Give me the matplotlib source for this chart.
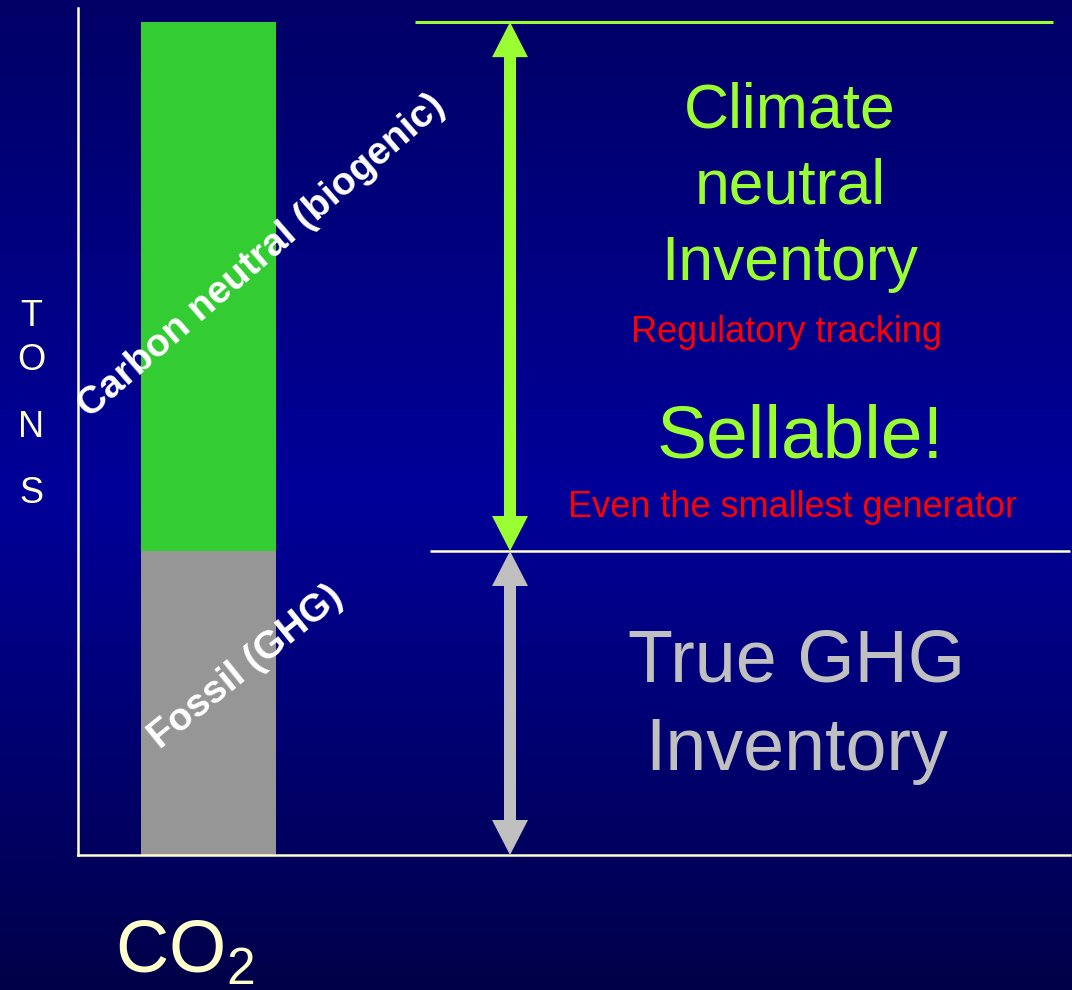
import matplotlib.pyplot as plt
import numpy as np
from matplotlib.colors import LinearSegmentedColormap
from matplotlib.patches import FancyArrowPatch, ArrowStyle

plt.rcParams['font.family'] = ['Liberation Sans', 'DejaVu Sans']
plt.rcParams['mathtext.fontset'] = 'custom'
plt.rcParams['mathtext.rm'] = 'Liberation Sans'

# stacked CO2 bar (relative tons)
segment_names = ['Fossil (GHG)', 'Carbon neutral (biogenic)']
segment_tons = [36.5, 63.5]
segment_colors = ['#969696', '#33CC33']
bar_label = r'CO$_\mathregular{2}$'
axis_label = ['T', 'O', 'N', 'S']

W, H = 1072, 990
CREAM = '#FFFFCC'
LIME = '#99FF33'
SILVER = '#C0C0C0'


def fx(x):
    return x / W


def fy(y):
    return 1 - y / H


fig = plt.figure(figsize=(W / 100, H / 100), dpi=100)

# gradient background
bg = fig.add_axes([0, 0, 1, 1], zorder=-1)
cmap = LinearSegmentedColormap.from_list(
    'slide', [(0, '#000066'), (0.5, '#000099'), (1, '#000048')])
bg.imshow(np.linspace(0, 1, 256).reshape(-1, 1), aspect='auto', cmap=cmap,
          extent=[0, 1, 0, 1])
bg.axis('off')

# main axes: y axis at x=78px, x axis at y=855px
ax = fig.add_axes([fx(78), fy(855), fx(1070 - 78), (855 - 8) / H])
ax.set_facecolor('none')
ax.set_xlim(-0.967, 6.381)
ax.set_ylim(0, 101.7)
for s in ['top', 'right']:
    ax.spines[s].set_visible(False)
for s in ['left', 'bottom']:
    ax.spines[s].set_color(CREAM)
    ax.spines[s].set_linewidth(1.8)
ax.set_xticks([])
ax.set_yticks([])

bottom = 0
for name, val, col in zip(segment_names, segment_tons, segment_colors):
    ax.bar(0, val, width=1, bottom=bottom, color=col, zorder=1)
    bottom += val

fossil = segment_tons[0]
total = sum(segment_tons)

# boundary lines
ax.plot([1.53, 6.256], [total, total], color=LIME, lw=2.2,
        solid_capstyle='butt', clip_on=False)
ax.plot([1.641, 6.381], [fossil, fossil], color=CREAM, lw=1.8,
        solid_capstyle='butt', clip_on=False)


def double_arrow(x, y0, y1, color):
    mid = (y0 + y1) / 2
    style = ArrowStyle.Simple(head_length=2.52, head_width=2.59, tail_width=0.864)
    # two single-headed arrows overlapping a little in the middle
    for start, end in ((mid + 1, y0), (mid - 1, y1)):
        ax.add_patch(FancyArrowPatch((x, start), (x, end), arrowstyle=style,
                                     mutation_scale=10, color=color, lw=0,
                                     shrinkA=0, shrinkB=0, clip_on=False,
                                     zorder=3))


double_arrow(2.233, fossil, total, LIME)
double_arrow(2.233, 0, fossil, SILVER)

# rotated segment labels
fig.text(fx(262), fy(256), segment_names[1], rotation=41, rotation_mode='anchor',
         ha='center', va='center', fontsize=28, fontweight='bold', color='white')
fig.text(fx(246), fy(667), segment_names[0], rotation=39, rotation_mode='anchor',
         ha='center', va='center', fontsize=28, fontweight='bold', color='white')

# vertical axis label
for letter, base in zip(axis_label, [326, 370, 437, 503]):
    fig.text(fx(31), fy(base), letter, ha='center', va='baseline',
             fontsize=26, color=CREAM)

# right-hand annotations
for line, base in zip(['Climate', 'neutral', 'Inventory'], [128, 203, 280]):
    fig.text(fx(790), fy(base), line, ha='center', va='baseline',
             fontsize=45, color=LIME)
fig.text(fx(786), fy(342), 'Regulatory tracking', ha='center', va='baseline',
         fontsize=26, color='#FF0000')
fig.text(fx(800), fy(458), 'Sellable!', ha='center', va='baseline',
         fontsize=54, color=LIME)
fig.text(fx(793), fy(517), 'Even the smallest generator', ha='center',
         va='baseline', fontsize=26, color='#FF0000')
for line, base in zip(['True GHG', 'Inventory'], [682, 770]):
    fig.text(fx(797), fy(base), line, ha='center', va='baseline',
             fontsize=53, color=SILVER)

fig.text(fx(115), fy(973), bar_label, ha='left', va='baseline',
         fontsize=53, color=CREAM)

fig.savefig('out.png', dpi=100)
